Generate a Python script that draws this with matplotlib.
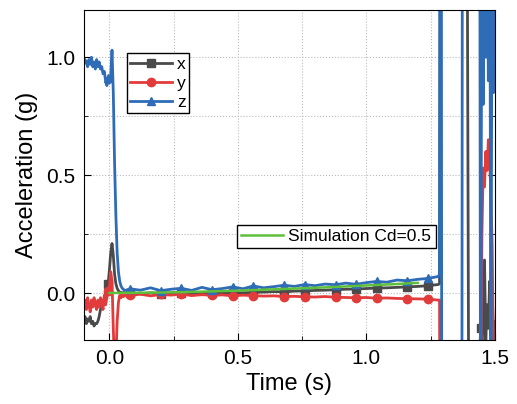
import numpy as np
import matplotlib
matplotlib.use("Agg")
from matplotlib import pyplot as plt
from matplotlib.ticker import MultipleLocator

plt.rcParams['font.family'] = ['Liberation Sans', 'DejaVu Sans']

# time axis (s): pre-drop, impact, drop, end
time = [
    -0.100, -0.095, -0.090, -0.085, -0.080, -0.075, -0.070, -0.065, -0.060, -0.055,
    -0.050, -0.045, -0.040, -0.035, -0.030, -0.025, -0.020, -0.015, -0.010, -0.005,
    0.000, 0.005, 0.010, 0.015, 0.020, 0.025, 0.030, 0.035, 0.040, 0.045, 0.050,
    0.055, 0.060,
    0.08, 0.12, 0.16, 0.20, 0.24, 0.28, 0.32, 0.36, 0.40, 0.44, 0.48, 0.52, 0.56,
    0.60, 0.64, 0.68, 0.72, 0.76, 0.80, 0.84, 0.88, 0.92, 0.96, 1.00, 1.04, 1.08,
    1.12, 1.16, 1.20, 1.24, 1.28,
    1.285, 1.290, 1.295, 1.300, 1.320, 1.340, 1.360, 1.370, 1.375, 1.380, 1.390,
    1.400, 1.410, 1.420, 1.430, 1.440, 1.445, 1.450, 1.455, 1.460, 1.465, 1.470,
    1.475, 1.480, 1.485, 1.490, 1.495, 1.500,
]

acc_x = [
    -0.12, -0.10, -0.13, -0.11, -0.12, -0.10, -0.13, -0.12, -0.14, -0.13,
    -0.13, -0.12, -0.10, -0.07, -0.06, -0.04, -0.02, 0.00, 0.02, 0.04,
    0.10, 0.17, 0.21, 0.16, 0.08, 0.04, 0.02, 0.01, 0.00, 0.004, -0.003,
    0.002, -0.002,
    0.002, -0.004, 0.001, -0.003, 0.000, 0.002, -0.002, 0.001, -0.001, 0.000, 0.002,
    0.001, 0.003, 0.004, 0.006, 0.005, 0.008, 0.009, 0.011, 0.012, 0.014, 0.016,
    0.017, 0.019, 0.021, 0.022, 0.024, 0.026, 0.028, 0.031, 0.036,
    0.040, 3.0, 3.0, 3.0, 3.0, 3.0, 3.0, 3.0, 3.0, 3.0, 2.5,
    -1.0, -2.0, -2.0, -2.0, -0.30, -0.15, -0.25, -0.10, 0.14, -0.20, -0.05,
    -0.15, 0.05, -0.18, 0.01, -0.20, -0.12,
]

acc_y = [
    -0.06, -0.03, -0.07, -0.02, -0.05, -0.08, -0.03, -0.06, -0.02, -0.05,
    -0.07, -0.03, -0.06, -0.02, -0.04, -0.07, -0.01, -0.05, -0.02, 0.01,
    0.03, 0.09, 0.05, -0.15, -0.32, -0.28, -0.12, -0.04, -0.01, -0.02, -0.005,
    -0.015, -0.01,
    -0.010, -0.005, -0.012, -0.006, -0.009, -0.004, -0.011, -0.007, -0.010, -0.008,
    -0.012, -0.009, -0.011, -0.013, -0.012, -0.015, -0.014, -0.016, -0.017, -0.015,
    -0.018, -0.019, -0.020, -0.019, -0.022, -0.021, -0.023, -0.024, -0.025, -0.026,
    -0.030,
    -0.030, -2.0, -2.0, -2.0, -2.0, -2.0, -2.0, -2.0, -2.0, -2.0, -2.0,
    -2.0, -2.0, -2.0, -2.0, -1.0, -0.50, 0.25, 0.53, 0.45, 0.60, 0.52,
    0.65, 0.58, 0.40, 0.20, -0.30, -0.50,
]

acc_z = [
    0.97, 0.99, 0.98, 0.96, 0.99, 0.97, 1.00, 0.96, 0.98, 0.95,
    0.99, 0.96, 0.98, 0.95, 0.96, 0.93, 0.94, 0.90, 0.88, 0.91,
    0.89, 0.92, 1.03, 0.85, 0.55, 0.33, 0.17, 0.09, 0.05, 0.03, 0.02,
    0.015, 0.010,
    0.018, 0.012, 0.022, 0.010, 0.016, 0.020, 0.011, 0.024, 0.014, 0.019, 0.026,
    0.018, 0.030, 0.022, 0.027, 0.033, 0.028, 0.036, 0.031, 0.038, 0.035, 0.042,
    0.037, 0.044, 0.049, 0.046, 0.055, 0.052, 0.058, 0.062, 0.070,
    0.080, 5.0, -3.0, -3.0, -3.0, -3.0, -3.0, -3.0, 3.0, 3.0, 3.0,
    3.0, 3.0, 3.0, 3.0, 3.0, -1.0, 2.0, 0.80, 2.5, 1.0, 1.6,
    0.90, 2.0, -0.50, 1.8, 0.85, 2.0,
]

# simulation, Cd = 0.5
sim_time = [0.0, 0.1, 0.2, 0.3, 0.4, 0.5, 0.6, 0.7, 0.8, 0.9, 1.0, 1.1, 1.2]
sim_acc = [0.0, 0.001, 0.002, 0.004, 0.007, 0.010, 0.014, 0.018, 0.022, 0.027,
           0.032, 0.037, 0.043]

time = np.array(time)
marks = [int(np.argmin(np.abs(time - m))) for m in np.arange(-0.005, 1.5, 0.0965)]

fig = plt.figure(figsize=(5.17, 4.04), dpi=100)
ax = fig.add_axes([0.162, 0.158, 0.795, 0.817])

kw = dict(lw=2.0, ms=6, markevery=marks)
lx, = ax.plot(time, acc_x, color="#4a4a4a", marker="s", label="x", **kw)
ly, = ax.plot(time, acc_y, color="#e23b3b", marker="o", label="y", **kw)
lz, = ax.plot(time, acc_z, color="#2f6cb8", marker="^", label="z", **kw)
ls, = ax.plot(sim_time, sim_acc, color="#5dbf3a", lw=1.8, label="Simulation Cd=0.5")

ax.set_xlim(-0.1, 1.5)
ax.set_ylim(-0.2, 1.2)
ax.xaxis.set_major_locator(MultipleLocator(0.5))
ax.xaxis.set_minor_locator(MultipleLocator(0.25))
ax.yaxis.set_major_locator(MultipleLocator(0.5))
ax.yaxis.set_minor_locator(MultipleLocator(0.25))
ax.tick_params(which="both", direction="in", right=True, labelsize=15, pad=6)
ax.tick_params(which="major", length=5)
ax.tick_params(which="minor", length=3)
ax.grid(which="both", color="#bbbbbb", ls=":", lw=0.8)
ax.set_axisbelow(True)

ax.set_xlabel("Time (s)", fontsize=17, labelpad=4)
ax.set_ylabel("Acceleration (g)", fontsize=17, labelpad=6)

leg1 = ax.legend(handles=[lx, ly, lz], loc="upper left", bbox_to_anchor=(0.105, 0.87),
                 fontsize=12.5, fancybox=False, edgecolor="black", framealpha=1,
                 handlelength=2.4, handletextpad=0.3, labelspacing=0.22,
                 borderpad=0.2, borderaxespad=0)
leg1.get_frame().set_linewidth(1.0)
ax.add_artist(leg1)
leg2 = ax.legend(handles=[ls], loc="upper left", bbox_to_anchor=(0.373, 0.35),
                 fontsize=12.5, fancybox=False, edgecolor="black", framealpha=1,
                 handlelength=2.4, handletextpad=0.3, borderpad=0.25, borderaxespad=0)
leg2.get_frame().set_linewidth(1.0)

fig.savefig("out.png", dpi=100)
